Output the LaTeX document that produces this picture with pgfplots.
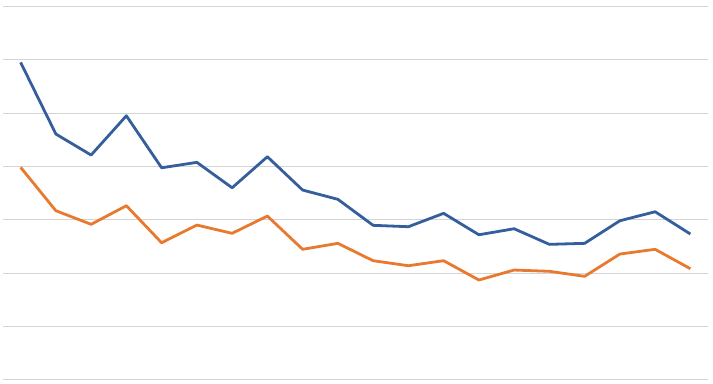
\documentclass[border=0pt]{standalone}
\usepackage{pgfplots}
\pgfplotsset{compat=1.18}
\definecolor{sblue}{RGB}{52,94,156}
\definecolor{sorange}{RGB}{232,122,48}
\definecolor{gridgray}{RGB}{212,212,212}
\begin{document}
\begin{tikzpicture}
\useasboundingbox (-3bp,-4.3bp) rectangle (710bp,379.7bp);
\begin{axis}[
  at={(0,0)}, anchor=south west,
  scale only axis,
  width=705bp, height=373bp,
  xmin=-0.5, xmax=19.5,
  ymin=0, ymax=7,
  ytick={0,1,...,7},
  xtick=\empty,
  yticklabels={},
  major tick length=0pt,
  axis line style={draw=none},
  ymajorgrids,
  grid style={gridgray, line width=1bp},
  every axis plot/.append style={line width=2.8bp, line join=round, mark=none},
  clip=false,
]
\addplot[sblue] coordinates {
(0,5.955) (1,4.61) (2,4.216) (3,4.953) (4,3.977) (5,4.079) (6,3.602) (7,4.184)
(8,3.559) (9,3.385) (10,2.897) (11,2.871) (12,3.122) (13,2.720) (14,2.833)
(15,2.540) (16,2.559) (17,2.983) (18,3.152) (19,2.734)};
\addplot[sorange] coordinates {
(0,3.985) (1,3.171) (2,2.916) (3,3.265) (4,2.570) (5,2.902) (6,2.747) (7,3.071)
(8,2.447) (9,2.559) (10,2.233) (11,2.139) (12,2.233) (13,1.871) (14,2.058)
(15,2.034) (16,1.940) (17,2.358) (18,2.447) (19,2.083)};
\end{axis}
\end{tikzpicture}
\end{document}
